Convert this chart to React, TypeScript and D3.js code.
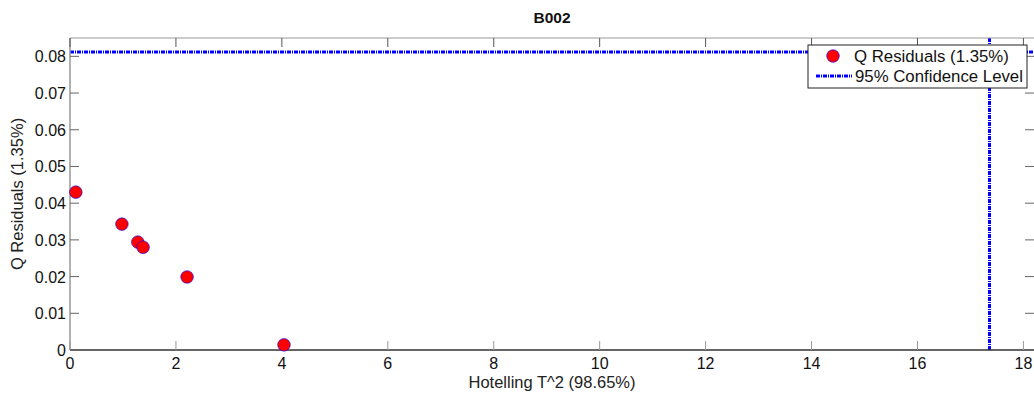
import React from "react";
import * as d3 from "d3";

const title = "B002";
const xLabel = "Hotelling T^2 (98.65%)";
const yLabel = "Q Residuals (1.35%)";
const tValues = [0.11, 0.98, 1.28, 1.38, 2.21, 4.04];
const qValues = [0.043, 0.0343, 0.0294, 0.028, 0.0199, 0.0014];
const qLimit = 0.0812;
const tLimit = 17.36;
const xTicks = [0, 2, 4, 6, 8, 10, 12, 14, 16, 18];
const yTicks = [0, 0.01, 0.02, 0.03, 0.04, 0.05, 0.06, 0.07, 0.08];
const legendLabels = ["Q Residuals (1.35%)", "95% Confidence Level"];

const W = 1034, H = 393;
const m = { left: 70, right: 0, top: 38, bottom: 43 };

export default function App() {
  const x = d3.scaleLinear().domain([0, 18.2]).range([m.left, W - m.right]);
  const y = d3.scaleLinear().domain([0, 0.085]).range([H - m.bottom, m.top]);
  const font = "'Liberation Sans', Arial, sans-serif";
  const x0 = x(0), x1 = x(18.2), y0 = y(0), y1 = y(0.085);
  const blue = "#0000ff";
  const lx = 808, ly = 45, lw = 219, lh = 43;
  return (
    <svg width={W} height={H} style={{ position: "absolute", left: 0, top: 0 }}>
      <rect x={0} y={0} width={W} height={H} fill="#fff" />
      {/* confidence lines */}
      <line x1={x0} x2={x1} y1={y(qLimit)} y2={y(qLimit)} stroke={blue} strokeWidth={3} strokeDasharray="4,1,1,1" />
      <line x1={x(tLimit)} x2={x(tLimit)} y1={y0} y2={y1} stroke={blue} strokeWidth={3} strokeDasharray="4,1,1,1" />
      {/* axes */}
      <line x1={x0} x2={x1} y1={y1} y2={y1} stroke="#999" strokeWidth={1} />
      <line x1={x0} x2={x0} y1={y0} y2={y1} stroke="#999" strokeWidth={1.5} />
      <line x1={x0} x2={x1} y1={y0} y2={y0} stroke="#333" strokeWidth={1.5} />
      {xTicks.map((t) => (
        <g key={"x" + t}>
          <line x1={x(t)} x2={x(t)} y1={y0} y2={y0 - 9} stroke="#999" />
          <line x1={x(t)} x2={x(t)} y1={y1} y2={y1 + 9} stroke="#555" />
          <text x={x(t)} y={y0 + 19} textAnchor="middle" fontFamily={font} fontSize={16} fill="#111">{t}</text>
        </g>
      ))}
      {yTicks.map((t) => (
        <g key={"y" + t}>
          <line x1={x0} x2={x0 + 9} y1={y(t)} y2={y(t)} stroke="#666" />
          <line x1={x1} x2={x1 - 9} y1={y(t)} y2={y(t)} stroke="#666" />
          <text x={x0 - 4} y={y(t) + 6} textAnchor="end" fontFamily={font} fontSize={16} fill="#111">{t}</text>
        </g>
      ))}
      {/* points */}
      {tValues.map((t, i) => (
        <circle key={i} cx={x(t)} cy={y(qValues[i])} r={6.3} fill="#ff0000" stroke={blue} strokeWidth={0.6} />
      ))}
      {/* legend */}
      <rect x={lx} y={ly} width={lw} height={lh} fill="#fff" stroke="#222" strokeWidth={1} />
      <circle cx={lx + 25} cy={ly + 11} r={6.3} fill="#ff0000" stroke={blue} strokeWidth={0.6} />
      <text x={lx + 46} y={ly + 17} fontFamily={font} fontSize={16.8} fill="#111">{legendLabels[0]}</text>
      <line x1={lx + 8} x2={lx + 44} y1={ly + 31} y2={ly + 31} stroke={blue} strokeWidth={3} strokeDasharray="4,1,1,1" />
      <text x={lx + 47} y={ly + 37} fontFamily={font} fontSize={16.8} fill="#111">{legendLabels[1]}</text>
      {/* labels */}
      <text x={(x0 + x1) / 2} y={23} textAnchor="middle" fontFamily={font} fontSize={15.5} fontWeight="bold" fill="#111">{title}</text>
      <text x={(x0 + x1) / 2} y={388} textAnchor="middle" fontFamily={font} fontSize={16.5} fill="#222">{xLabel}</text>
      <text transform={`translate(23,${(y0 + y1) / 2}) rotate(-90)`} textAnchor="middle" fontFamily={font} fontSize={16.5} fill="#222">{yLabel}</text>
    </svg>
  );
}
